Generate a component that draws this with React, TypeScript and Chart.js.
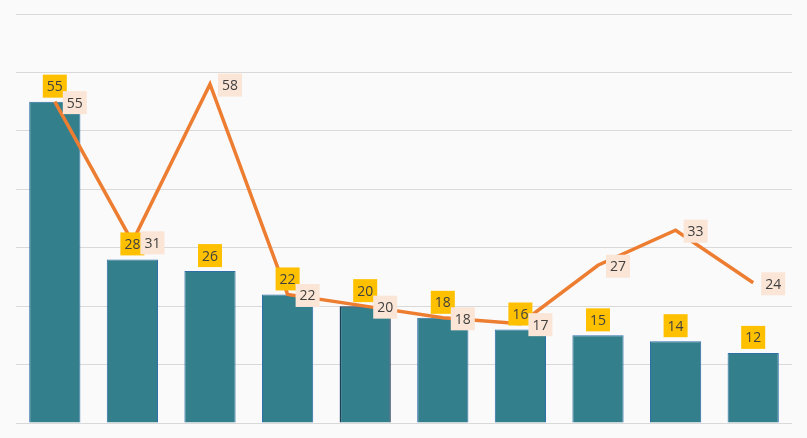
import React, { useEffect, useRef } from "react";
import { Chart, registerables } from "chart.js";

Chart.register(...registerables);

const categories = ["1", "2", "3", "4", "5", "6", "7", "8", "9", "10"];
const barValues = [55, 28, 26, 22, 20, 18, 16, 15, 14, 12];
const lineValues = [55, 31, 58, 22, 20, 18, 17, 27, 33, 24];
const selectedBar = 4;

const FONT = "14px 'Open Sans', 'Noto Sans', sans-serif";

function drawBox(ctx: CanvasRenderingContext2D, text: string, x: number, y: number, bg: string, align: "center" | "left") {
  ctx.font = FONT;
  const tw = ctx.measureText(text).width;
  const w = tw + 8;
  const h = 23;
  const left = align === "center" ? x - w / 2 : x;
  ctx.fillStyle = bg;
  ctx.fillRect(left, y - h / 2, w, h);
  ctx.fillStyle = "#404040";
  ctx.textAlign = "center";
  ctx.textBaseline = "middle";
  ctx.fillText(text, left + w / 2, y + 1);
}

const labelPlugin = {
  id: "labels",
  afterDatasetsDraw(chart: any) {
    const ctx = chart.ctx;
    ctx.save();
    const barMeta = chart.getDatasetMeta(1);
    barMeta.data.forEach((el: any, i: number) => {
      drawBox(ctx, String(barValues[i]), el.x, el.y - 15.5, "#ffc000", "center");
    });
    const lineMeta = chart.getDatasetMeta(0);
    lineMeta.data.forEach((el: any, i: number) => {
      drawBox(ctx, String(lineValues[i]), el.x + 8, el.y + 1, "#fbe5d6", "left");
    });
    ctx.restore();
  },
};

export default function App() {
  const ref = useRef<HTMLCanvasElement>(null);
  useEffect(() => {
    document.body.style.margin = "0";
    const chart = new Chart(ref.current!, {
      type: "bar",
      data: {
        labels: categories,
        datasets: [
          {
            type: "line",
            data: lineValues,
            borderColor: "#ed7d31",
            borderWidth: 3.5,
            pointRadius: 0,
            tension: 0,
            order: 0,
          } as any,
          {
            type: "bar",
            data: barValues,
            backgroundColor: "#337f8c",
            borderColor: barValues.map((_, i) => (i === selectedBar ? "#1f3f5a" : "#2e6fa8")),
            borderWidth: barValues.map((_, i) => (i === selectedBar ? 1.5 : 1)),
            categoryPercentage: 1,
            barPercentage: 0.66,
            order: 1,
          },
        ],
      },
      options: {
        animation: false,
        responsive: false,
        maintainAspectRatio: false,
        layout: { padding: { left: 16, right: 15, top: 14, bottom: 15 } },
        plugins: { legend: { display: false }, tooltip: { enabled: false } },
        scales: {
          x: { display: false },
          y: {
            min: 0,
            max: 70,
            ticks: { display: false, stepSize: 10 },
            grid: { color: "#d9d9d9", lineWidth: 1, drawTicks: false },
            border: { display: false },
          },
        },
      },
      plugins: [labelPlugin],
    });
    return () => chart.destroy();
  }, []);
  return (
    <div style={{ width: 807, height: 438, background: "#fafafa" }}>
      <canvas ref={ref} width={807} height={438} style={{ display: "block" }} />
    </div>
  );
}
